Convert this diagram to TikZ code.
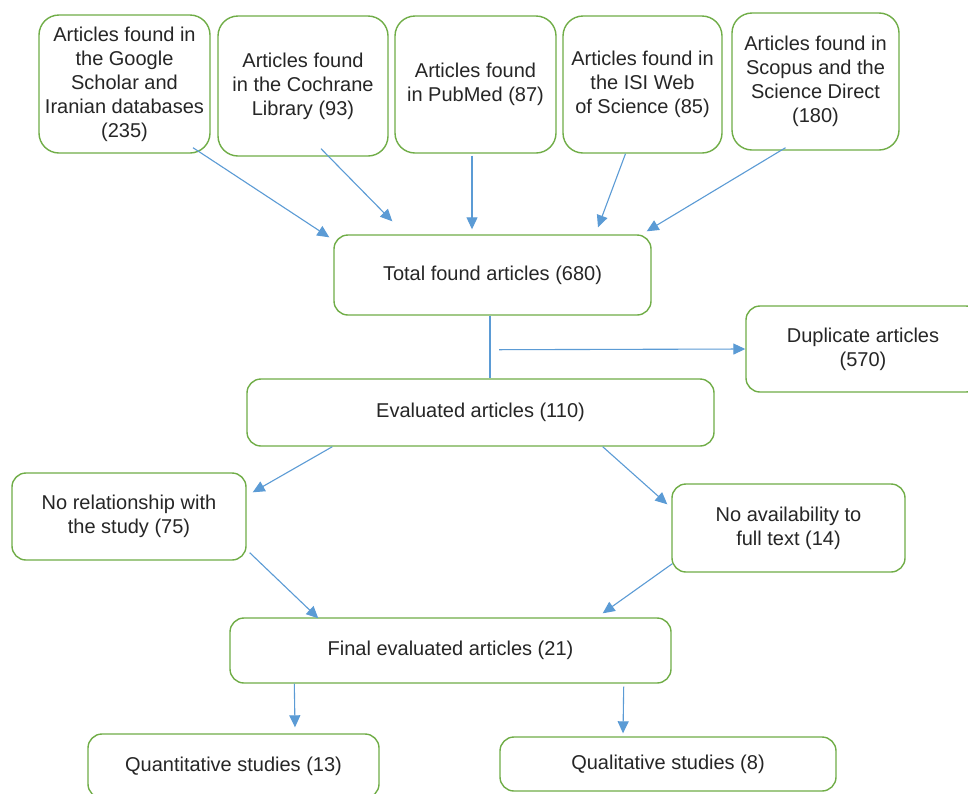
\documentclass[tikz,border=0pt]{standalone}
\usepackage{fontspec}
\setmainfont{Liberation Sans}
\usetikzlibrary{arrows.meta}
\definecolor{bgreen}{HTML}{70AD47}
\definecolor{ablue}{HTML}{5B9BD5}
\definecolor{txt}{HTML}{262626}
\begin{document}
\begin{tikzpicture}[x=1pt,y=-1pt,
  box/.style={draw=bgreen, line width=1.4pt, rounded corners=14pt, align=center, inner sep=0pt, text=txt, font=\fontsize{20}{24}\selectfont},
  topbox/.style={box, rounded corners=20pt},
  arr/.style={draw=ablue, line width=1.1pt, -{Triangle[length=12pt,width=11pt]}},
  ln/.style={draw=ablue, line width=1.1pt}]
\useasboundingbox (0,0) rectangle (968,793);
\clip (0,0) rectangle (968,793);
\fill[white] (0,0) rectangle (968,793);
% top row
\node[topbox, minimum width=171pt, minimum height=138pt] (b1) at (124.5,84) {Articles found in\\the Google\\Scholar and\\Iranian databases\\(235)};
\node[topbox, minimum width=170pt, minimum height=140pt] (b2) at (303,86) {Articles found\\in the Cochrane\\Library (93)};
\node[topbox, minimum width=161pt, minimum height=137pt] (b3) at (475.5,84.5) {Articles found\\in PubMed (87)};
\node[topbox, minimum width=159pt, minimum height=137pt] (b4) at (642.5,84.5) {Articles found in\\the ISI Web\\of Science (85)};
\node[topbox, minimum width=167pt, minimum height=137pt] (b5) at (815.5,81.5) {Articles found in\\Scopus and the\\Science Direct\\(180)};
% middle
\node[box, minimum width=317pt, minimum height=80pt] (total) at (492.5,275) {Total found articles (680)};
\node[box, minimum width=234pt, minimum height=86pt] (dup) at (863,349) {Duplicate articles\\(570)};
\node[box, minimum width=467pt, minimum height=67pt] (eval) at (480.5,412.5) {Evaluated articles (110)};
\node[box, minimum width=234pt, minimum height=87pt] (norel) at (129,516.5) {No relationship with\\the study (75)};
\node[box, minimum width=233pt, minimum height=88pt] (noav) at (788.5,528) {No availability to\\full text (14)};
\node[box, minimum width=441pt, minimum height=65pt] (final) at (450.5,650.5) {Final evaluated articles (21)};
\node[box, minimum width=291pt, minimum height=64pt] (quant) at (233.5,766) {Quantitative studies (13)};
\node[box, minimum width=336pt, minimum height=54pt] (qual) at (668,764) {Qualitative studies (8)};
% connectors
\draw[arr] ([shift={(68.5,-6)}]b1.south) -- ([shift={(-4,3)}]total.north west);
\draw[arr] ([shift={(18,-8)}]b2.south) -- ([shift={(59,-13)}]total.north west);
\draw[arr] ([shift={(-3.5,2)}]b3.south) -- ([shift={(-20.5,-5)}]total.north);
\draw[arr] ([shift={(-17,0)}]b4.south) -- ([shift={(105.5,-7)}]total.north);
\draw[arr] ([shift={(-30,-3)}]b5.south) -- ([shift={(-5,-3)}]total.north east);
\draw[ln] ([shift={(-2.5,0)}]total.south) -- ([shift={(9.5,0)}]eval.north);
\draw[arr] ([shift={(6.5,34)}]total.south) -- (dup.west);
\draw[arr] ([shift={(86,0)}]eval.south west) -- ([shift={(6,20)}]norel.north east);
\draw[arr] ([shift={(-112,0)}]eval.south east) -- ([shift={(-4,21)}]noav.north west);
\draw[arr] ([shift={(3,-8)}]norel.south east) -- ([shift={(89,1)}]final.north west);
\draw[arr] ([shift={(1,-9)}]noav.south west) -- ([shift={(-69,-4)}]final.north east);
\draw[arr] ([shift={(65,0)}]final.south west) -- ([shift={(61.5,-6)}]quant.north);
\draw[arr] ([shift={(-48,3)}]final.south east) -- ([shift={(-45,-3)}]qual.north);
\end{tikzpicture}
\end{document}
